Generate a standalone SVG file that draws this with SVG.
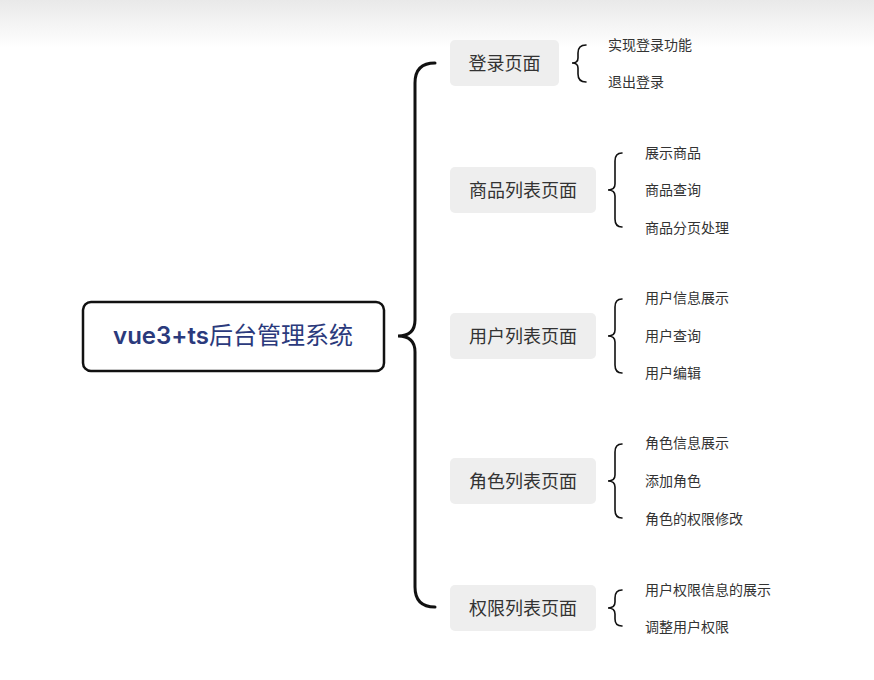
<svg xmlns="http://www.w3.org/2000/svg" width="874" height="680" viewBox="0 0 874 680">
<defs>
<linearGradient id="topg" x1="0" y1="0" x2="0" y2="1">
<stop offset="0" stop-color="#e9e9e9"/>
<stop offset="1" stop-color="#ffffff"/>
</linearGradient>
<style>
.node rect{fill:#eeeeee;stroke:none}
.node text{font-family:"Noto Sans CJK SC","Liberation Sans",sans-serif;font-size:18px;fill:#333;text-anchor:middle;dominant-baseline:central}
.leaf{font-family:"Noto Sans CJK SC","Liberation Sans",sans-serif;font-size:14px;fill:#333;dominant-baseline:central}
.big{fill:none;stroke:#111;stroke-width:3;stroke-linecap:round}
.small{fill:none;stroke:#111;stroke-width:1.6;stroke-linecap:round}
</style>
</defs>
<rect x="0" y="0" width="874" height="680" fill="#fff"/>
<rect x="0" y="0" width="874" height="48" fill="url(#topg)"/>

<g id="root">
<rect x="83" y="302" width="301" height="69" rx="8" fill="#fff" stroke="#111" stroke-width="2.5"/>
<text x="233" y="335" font-family="Inter,'Noto Sans CJK SC',sans-serif" font-size="24" fill="#2b3a7c" text-anchor="middle" dominant-baseline="central"><tspan font-weight="600">vue3+ts</tspan>后台管理系统</text>
</g>

<g id="connectors">
<path class="big" d="M435,63 Q415,63 415,83 L415,320 Q415,336 398,336 Q415,336 415,352 L415,587 Q415,607 435,607"/>
<path class="small" d="M586,45 Q578,45 578,53 L578,58 Q578,63 572,63 Q578,63 578,68 L578,74 Q578,82 586,82"/>
<path class="small" d="M622,153 Q615,153 615,161 L615,184 Q615,190 608,190 Q615,190 615,196 L615,219 Q615,227 622,227"/>
<path class="small" d="M622,299 Q615,299 615,307 L615,330 Q615,336 608,336 Q615,336 615,342 L615,365 Q615,373 622,373"/>
<path class="small" d="M622,444 Q615,444 615,452 L615,475 Q615,481 608,481 Q615,481 615,487 L615,510 Q615,518 622,518"/>
<path class="small" d="M622,590 Q615,590 615,598 L615,602 Q615,608 608,608 Q615,608 615,614 L615,619 Q615,626 622,626"/>
</g>

<g id="n-login" class="node">
<rect x="450" y="40" width="109" height="46" rx="5"/>
<text x="504.5" y="61.5">登录页面</text>
</g>
<g id="n-goods" class="node">
<rect x="450" y="167" width="146" height="46" rx="5"/>
<text x="523" y="188.5">商品列表页面</text>
</g>
<g id="n-user" class="node">
<rect x="450" y="313" width="146" height="46" rx="5"/>
<text x="523" y="334.5">用户列表页面</text>
</g>
<g id="n-role" class="node">
<rect x="450" y="458" width="146" height="46" rx="5"/>
<text x="523" y="479.5">角色列表页面</text>
</g>
<g id="n-perm" class="node">
<rect x="450" y="585" width="146" height="46" rx="5"/>
<text x="523" y="606.5">权限列表页面</text>
</g>

<g id="leaves-login">
<text class="leaf" x="608" y="43.5">实现登录功能</text>
<text class="leaf" x="608" y="80.5">退出登录</text>
</g>
<g id="leaves-goods">
<text class="leaf" x="645" y="151.5">展示商品</text>
<text class="leaf" x="645" y="188.5">商品查询</text>
<text class="leaf" x="645" y="226.5">商品分页处理</text>
</g>
<g id="leaves-user">
<text class="leaf" x="645" y="296.5">用户信息展示</text>
<text class="leaf" x="645" y="334.5">用户查询</text>
<text class="leaf" x="645" y="371.5">用户编辑</text>
</g>
<g id="leaves-role">
<text class="leaf" x="645" y="441.5">角色信息展示</text>
<text class="leaf" x="645" y="479.5">添加角色</text>
<text class="leaf" x="645" y="517.5">角色的权限修改</text>
</g>
<g id="leaves-perm">
<text class="leaf" x="645" y="588.5">用户权限信息的展示</text>
<text class="leaf" x="645" y="625.5">调整用户权限</text>
</g>
</svg>
